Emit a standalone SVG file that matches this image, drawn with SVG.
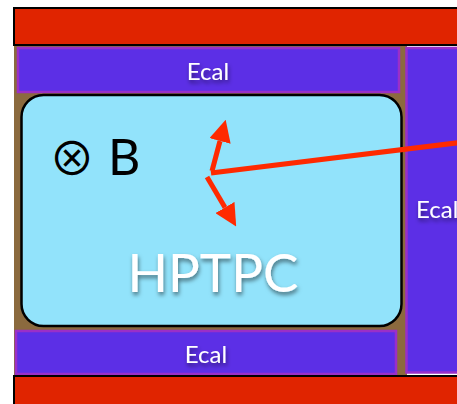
<svg xmlns="http://www.w3.org/2000/svg" width="457" height="404" viewBox="0 0 457 404">
<defs>
<style>
.red{fill:#e02400;stroke:#000;stroke-width:2}
.ecal{fill:#5c2fe6;stroke:#9a2fc8;stroke-width:2.5}
.lbl{fill:#fff;font-family:Lato,"Open Sans",sans-serif;filter:url(#sh)}
.mid{text-anchor:middle}
.trk{stroke:#ff2a00;stroke-width:5;fill:none}
</style>
<filter id="sh" x="-20%" y="-20%" width="140%" height="160%">
<feDropShadow dx="1" dy="3" stdDeviation="2" flood-color="#000" flood-opacity="0.5"/>
</filter>
<marker id="ah" viewBox="0 0 10 10" refX="0" refY="5" markerWidth="22" markerHeight="22" orient="auto" markerUnits="userSpaceOnUse">
<path d="M0,0 L10,5 L0,10 Z" fill="#ff2a00"/>
</marker>
</defs>
<rect x="14" y="45" width="393" height="331" fill="#8b6a3e"/>
<g id="topbar"><rect class="red" x="14" y="8" width="450" height="37"/></g>
<g id="ecal-top"><rect class="ecal" x="18" y="48" width="381" height="44"/><text class="lbl mid" x="208" y="80" font-size="24">Ecal</text></g>
<g id="ecal-right"><rect class="ecal" x="406.5" y="48" width="60" height="324.5"/><text class="lbl" x="416" y="218" font-size="24">Ecal</text></g>
<g id="ecal-bottom"><rect class="ecal" x="16" y="331" width="380" height="43"/><text class="lbl mid" x="206" y="363" font-size="24">Ecal</text></g>
<g id="bottombar"><rect class="red" x="14" y="376" width="450" height="40"/></g>
<g id="hptpc">
<rect x="21.5" y="95" width="380" height="231" rx="22" fill="#92e3fb" stroke="#000" stroke-width="2.5"/>
<text x="72" y="175" font-family="'Noto Sans CJK JP','DejaVu Sans',sans-serif" font-size="46" text-anchor="middle" fill="#000">⊗</text>
<text x="108" y="175" font-family="Lato,'Open Sans',sans-serif" font-size="50" fill="#000">B</text>
<text class="lbl mid" x="213" y="292" font-size="53">HPTPC</text>
</g>
<g id="connectors">
<line class="trk" x1="211" y1="173" x2="460" y2="142.5"/>
<line class="trk" x1="212" y1="171" x2="220" y2="141" marker-end="url(#ah)"/>
<line class="trk" x1="207" y1="177" x2="225" y2="207.5" marker-end="url(#ah)"/>
</g>
</svg>
